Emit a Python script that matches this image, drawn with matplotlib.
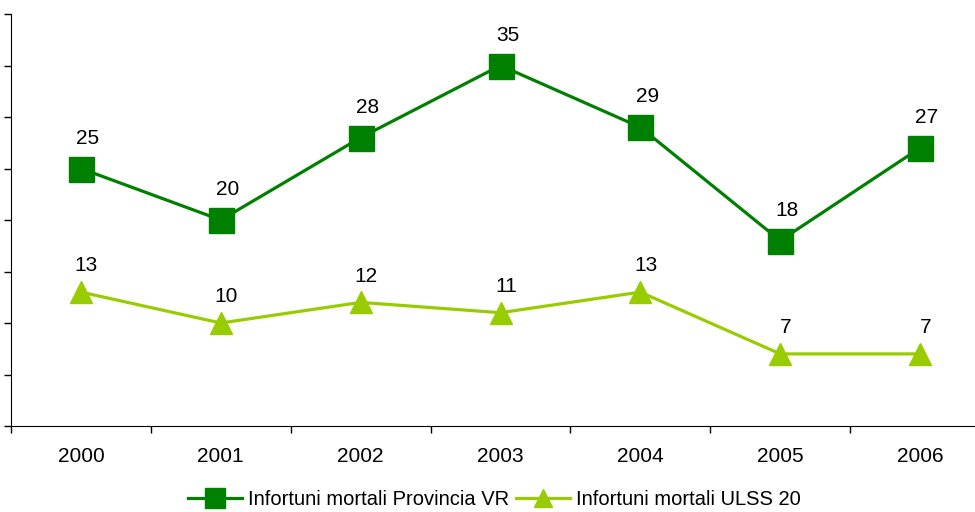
import matplotlib
matplotlib.use('Agg')
import matplotlib.pyplot as plt

years = ['2000', '2001', '2002', '2003', '2004', '2005', '2006']
provincia_vr = [25, 20, 28, 35, 29, 18, 27]
ulss_20 = [13, 10, 12, 11, 13, 7, 7]

plt.rcParams['font.family'] = ['Liberation Sans', 'DejaVu Sans']

fig = plt.figure(figsize=(9.75, 5.12), dpi=100)
ax = fig.add_axes([11 / 975, 1 - 426 / 512, 979 / 975, (426 - 14) / 512])

x = list(range(len(years)))
ax.plot(x, provincia_vr, color='#008000', lw=2.3, marker='s', ms=18,
        label='Infortuni mortali Provincia VR', clip_on=False)
ax.plot(x, ulss_20, color='#99CC00', lw=2.3, marker='^', ms=16,
        label='Infortuni mortali ULSS 20', clip_on=False)

for xi, v in zip(x, provincia_vr):
    ax.annotate(str(v), (xi, v), xytext=(5, 15), textcoords='offset points',
                ha='center', va='bottom', fontsize=15)
for xi, v in zip(x, ulss_20):
    ax.annotate(str(v), (xi, v), xytext=(4, 12), textcoords='offset points',
                ha='center', va='bottom', fontsize=15)

ax.set_xlim(-0.5, 6.5)
ax.set_ylim(0, 40)
ax.set_yticks(range(0, 41, 5))
ax.set_yticklabels([])
ax.set_xticks([i - 0.5 for i in range(8)])
ax.set_xticklabels([])
ax.set_xticks(x, minor=True)
ax.set_xticklabels(years, minor=True, fontsize=15)
ax.tick_params(axis='x', which='minor', length=0, pad=15)
ax.tick_params(axis='both', which='major', length=5, width=1)
ax.spines['top'].set_visible(False)
ax.spines['right'].set_visible(False)

# legend placed in figure coords so it stays centred on the page
fig.legend(*ax.get_legend_handles_labels(), loc='center',
           bbox_to_anchor=(0.507, 0.025), ncol=2, frameon=False,
           prop={'size': 14.5}, handlelength=2.7,
           handletextpad=0.3, columnspacing=0.3, markerscale=0.8)

fig.savefig('out.png', dpi=100)
